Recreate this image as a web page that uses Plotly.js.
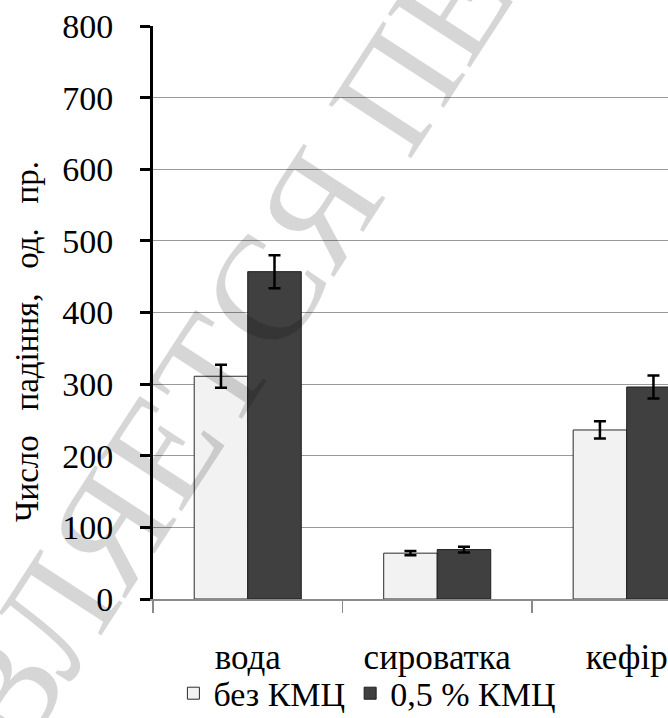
<!DOCTYPE html>
<html>
<head>
<meta charset="utf-8">
<script src="https://cdn.plot.ly/plotly-3.0.1.min.js"></script>
<style>
html,body{margin:0;padding:0;background:#fff;}
#chart{width:668px;height:718px;}
</style>
</head>
<body>
<div id="chart"></div>
<script>
const categories = ["вода", "сироватка", "кефір"];
const seriesNames = ["без КМЦ", "0,5 % КМЦ"];
const noCmc = [311, 64, 236];
const noCmcErr = [16, 3, 12];
const cmc = [457, 69, 296];
const cmcErr = [23, 4, 16];
const yTicks = [0, 100, 200, 300, 400, 500, 600, 700, 800];
const yTitle = "Число\u00a0\u00a0\u00a0падіння,\u00a0\u00a0\u00a0од.\u00a0\u00a0\u00a0пр.";
const watermark = "ЯВЛЯЕТСЯ ПЕРВЫМ";

const FONT = 'Liberation Serif';

const traces = [
  {
    type: 'bar', name: seriesNames[0], x: categories, y: noCmc,
    marker: {color: '#f2f2f2', line: {color: '#2a2a2a', width: 1}},
    error_y: {type: 'data', array: noCmcErr, visible: true, color: '#000', thickness: 2.5, width: 6}
  },
  {
    type: 'bar', name: seriesNames[1], x: categories, y: cmc,
    marker: {color: '#404040', line: {color: '#1e1e1e', width: 1}},
    error_y: {type: 'data', array: cmcErr, visible: true, color: '#000', thickness: 2.5, width: 6}
  }
];

const layout = {
  width: 668, height: 718,
  margin: {l: 153, r: 0, t: 26, b: 119, autoexpand: false},
  paper_bgcolor: '#fff', plot_bgcolor: '#fff',
  font: {family: FONT, color: '#000', size: 33},
  barmode: 'group', bargap: 0.435, bargroupgap: 0,
  showlegend: true,
  legend: {
    orientation: 'h', xref: 'container', yref: 'container',
    x: 0.55, xanchor: 'center', y: 0.034, yanchor: 'middle',
    font: {family: FONT, size: 34},
    itemwidth: 30, tracegroupgap: 0, bgcolor: 'rgba(0,0,0,0)'
  },
  xaxis: {
    type: 'category', range: [-0.5, 2.218], fixedrange: true,
    showline: true, linecolor: '#8a8a8a', linewidth: 1.5,
    ticks: 'outside', tickson: 'boundaries', ticklen: 12, tickwidth: 1.5, tickcolor: '#8a8a8a',
    ticklabelstandoff: 26,
    showgrid: false, zeroline: false,
    tickfont: {family: FONT, size: 35}
  },
  yaxis: {
    range: [0, 800], tickvals: yTicks, fixedrange: true,
    showline: true, linecolor: '#000', linewidth: 3,
    ticks: 'outside', ticklen: 10, tickwidth: 3, tickcolor: '#000',
    ticklabelstandoff: 20,
    showgrid: true, gridcolor: '#9a9a9a', gridwidth: 1.2,
    zeroline: false,
    tickfont: {family: FONT, size: 34}
  },
  annotations: [
    {
      xref: 'paper', yref: 'paper', x: -0.245, y: 0.45,
      xanchor: 'center', yanchor: 'middle', showarrow: false,
      text: yTitle, textangle: -90,
      font: {family: FONT, size: 33}
    },
    {
      xref: 'paper', yref: 'paper', x: 0.324, y: 0.688,
      xanchor: 'center', yanchor: 'middle', showarrow: false,
      text: watermark, textangle: -57,
      font: {family: FONT, size: 150, color: 'rgba(0,0,0,0.16)'}
    }
  ]
};

Plotly.newPlot('chart', traces, layout, {displayModeBar: false, staticPlot: true});
</script>
</body>
</html>
